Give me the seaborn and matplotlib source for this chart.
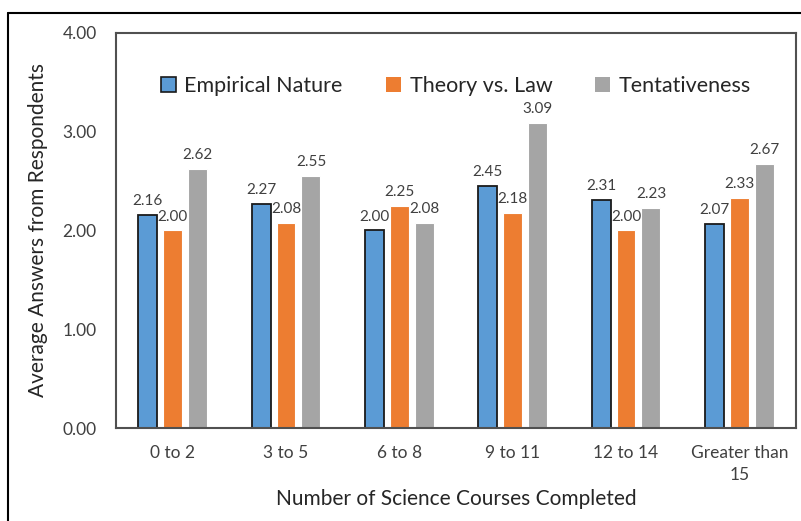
import seaborn as sns
import matplotlib.pyplot as plt
import matplotlib.patches as mpatches
import matplotlib.lines as mlines
import pandas as pd

categories = ['0 to 2', '3 to 5', '6 to 8', '9 to 11', '12 to 14', 'Greater than\n15']
series = ['Empirical Nature', 'Theory vs. Law', 'Tentativeness']
empirical = [2.16, 2.27, 2.00, 2.45, 2.31, 2.07]
theory = [2.00, 2.08, 2.25, 2.18, 2.00, 2.33]
tentative = [2.62, 2.55, 2.08, 3.09, 2.23, 2.67]
colors = ['#5B9BD5', '#ED7D31', '#A5A5A5']
edges = ['#1a1a1a', 'white', 'white']

df = pd.DataFrame({
    'course': categories * 3,
    'series': [s for s in series for _ in categories],
    'value': empirical + theory + tentative,
})

sns.set_style('white')
plt.rcParams['font.family'] = ['Lato', 'DejaVu Sans']

fig = plt.figure(figsize=(8.01, 5.21), dpi=100)
ax = fig.add_axes([0.1448, 0.1785, 0.8490, 0.7582])

sns.barplot(data=df, x='course', y='value', hue='series', hue_order=series,
            order=categories, palette=colors, saturation=1, width=0.66, gap=0.24,
            ax=ax, legend=False)

for cont, ec, lw in zip(ax.containers, edges, [1.3, 0.8, 0.8]):
    for p in cont:
        p.set_edgecolor(ec)
        p.set_linewidth(lw)
    ax.bar_label(cont, fmt='%.2f', padding=5, fontsize=11, color='#404040')

ax.set_ylim(0, 4)
ax.set_yticks([0, 1, 2, 3, 4])
ax.set_yticklabels(['0.00', '1.00', '2.00', '3.00', '4.00'])
ax.tick_params(axis='both', length=0, labelsize=12.5, colors='#404040')
ax.tick_params(axis='y', pad=14)
ax.tick_params(axis='x', pad=12)
for t in ax.get_xticklabels():
    t.set_multialignment('center')
    t.set_linespacing(1.5)
for sp in ax.spines.values():
    sp.set_visible(True)
    sp.set_color('#505050')
    sp.set_linewidth(1.5)

ax.set_xlabel('Number of Science Courses Completed', fontsize=15, color='#262626', labelpad=4)
ax.set_ylabel('Average Answers from Respondents', fontsize=15, color='#262626', labelpad=10)

handles = [mpatches.Patch(facecolor=c, edgecolor=e, linewidth=1.2) for c, e in zip(colors, ['#1a1a1a', 'none', 'none'])]
ax.legend(handles, series, loc='upper center', bbox_to_anchor=(0.5, 0.94), ncol=3,
          frameon=False, fontsize=15.5, handlelength=0.7, handleheight=0.7,
          handletextpad=0.4, columnspacing=2.0, labelcolor='#262626')

# outer frame of the figure
fig.add_artist(mlines.Line2D([0.0106, 1.0], [0.975, 0.975], color='black', lw=1.5, transform=fig.transFigure))
fig.add_artist(mlines.Line2D([0.0106, 0.0106], [0.0, 0.975], color='black', lw=1.5, transform=fig.transFigure))

fig.savefig('out.png', dpi=100)
